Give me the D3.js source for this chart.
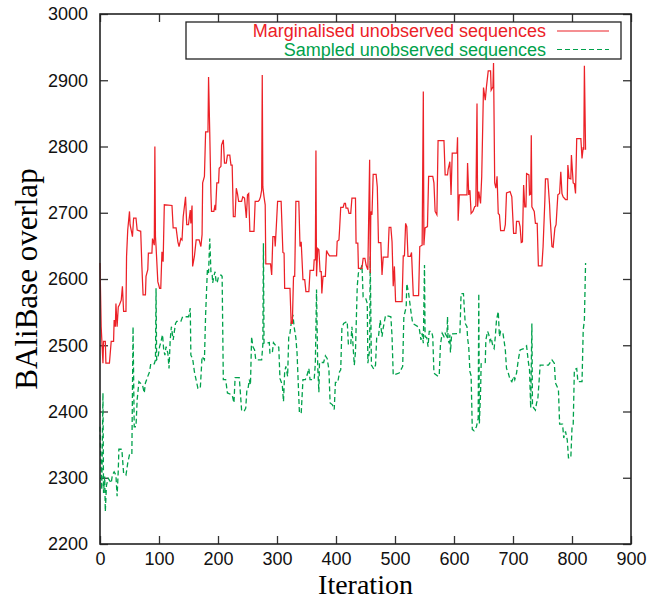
<!DOCTYPE html>
<html>
<head>
<meta charset="utf-8">
<style>
  body { margin: 0; background: #fff; }
  text { font-family: "Liberation Sans", Arial, Helvetica, sans-serif; }
</style>
</head>
<body>
<script src="https://d3js.org/d3.v7.min.js"></script>
<div id="chart"></div>
<script>
// ---- data ----
const xTicks = [0, 100, 200, 300, 400, 500, 600, 700, 800, 900];
const yTicks = [2200, 2300, 2400, 2500, 2600, 2700, 2800, 2900, 3000];
const seriesNames = ["Marginalised unobserved sequences", "Sampled unobserved sequences"];

const margIter = [0,2,5,6,9,10,16,19,23,24,26,27,29,31,33,36,38,40,44,45,47,50,51,54,55,57,61,63,69,71,73,77,78,81,82,88,89,92,93,94,95,98,101,103,105,107,109,122,124,129,132,134,137,139,141,145,147,150,153,154,156,157,160,163,168,171,173,174,177,179,183,184,186,188,189,193,195,196,198,201,202,205,206,209,211,214,216,220,222,224,226,229,231,233,235,240,242,245,248,250,252,254,261,263,268,270,272,274,275,276,278,280,281,289,291,293,296,297,299,301,307,310,312,313,322,324,326,328,330,332,337,339,341,344,347,349,354,356,362,363,365,366,367,369,371,373,375,376,378,382,384,386,389,401,402,405,406,408,412,414,416,417,420,422,425,427,433,434,437,438,444,446,449,451,454,457,458,459,461,463,468,470,472,476,478,480,488,490,493,495,497,499,501,512,514,516,518,520,522,526,528,531,540,542,546,548,549,551,555,557,564,566,568,571,573,583,585,589,590,593,595,597,605,606,607,609,622,623,625,627,629,632,635,637,639,640,642,645,647,650,653,655,658,662,663,666,667,669,671,673,675,677,679,685,687,689,695,698,701,705,706,710,712,714,716,718,720,722,723,727,728,730,731,732,736,738,741,743,749,751,754,755,759,762,763,766,768,771,773,776,779,781,783,785,789,792,793,795,798,799,802,804,806,808,815,817,819,820,821,823];
const margVal = [2624,2528,2473,2506,2506,2473,2473,2506,2506,2538,2528,2563,2528,2558,2561,2568,2589,2551,2551,2634,2674,2702,2682,2669,2664,2692,2692,2674,2672,2619,2576,2576,2604,2614,2639,2639,2661,2651,2800,2664,2649,2596,2586,2586,2641,2626,2712,2711,2677,2677,2656,2649,2661,2659,2694,2724,2682,2682,2704,2684,2711,2619,2634,2659,2659,2649,2667,2745,2755,2822,2822,2905,2822,2729,2702,2702,2712,2704,2745,2745,2767,2770,2802,2810,2775,2775,2787,2787,2772,2772,2694,2694,2737,2729,2717,2717,2724,2722,2692,2727,2729,2672,2672,2717,2717,2719,2724,2734,2908,2739,2724,2712,2623,2623,2606,2664,2664,2649,2682,2717,2717,2640,2639,2586,2586,2533,2533,2604,2604,2717,2717,2649,2656,2599,2599,2581,2581,2613,2613,2629,2629,2794,2604,2646,2644,2611,2611,2578,2604,2604,2643,2639,2635,2635,2657,2659,2674,2708,2708,2714,2714,2707,2707,2699,2699,2722,2722,2654,2654,2616,2616,2631,2631,2621,2614,2780,2609,2702,2697,2758,2758,2739,2655,2655,2606,2633,2633,2678,2678,2656,2589,2619,2566,2566,2635,2635,2684,2679,2634,2634,2640,2575,2575,2649,2651,2883,2651,2677,2679,2755,2755,2745,2702,2697,2809,2809,2757,2757,2765,2777,2727,2790,2790,2814,2688,2727,2727,2775,2727,2734,2699,2702,2709,2710,2865,2709,2732,2714,2755,2889,2870,2890,2914,2914,2885,2890,2926,2745,2737,2755,2699,2697,2673,2673,2682,2730,2732,2724,2669,2669,2687,2687,2679,2655,2656,2742,2709,2709,2759,2757,2727,2728,2817,2709,2702,2684,2684,2620,2620,2649,2719,2751,2751,2712,2692,2649,2648,2677,2682,2727,2729,2762,2729,2724,2720,2720,2772,2752,2751,2787,2745,2744,2729,2812,2812,2782,2799,2795,2922,2795];

const sampIter = [0,2,3,5,6,8,9,11,14,19,21,24,27,29,31,32,37,40,44,47,50,54,56,58,61,63,66,72,75,77,81,84,86,92,94,95,96,98,101,103,106,108,110,112,115,117,119,121,124,128,130,137,140,150,153,154,157,160,164,166,170,173,177,179,182,184,186,188,190,191,193,195,197,199,201,205,207,209,213,216,224,227,229,236,237,240,244,247,249,251,253,255,257,259,262,264,274,276,277,278,287,288,292,294,299,303,305,309,311,313,315,318,320,322,324,327,329,332,334,338,341,344,348,351,354,356,363,365,367,369,371,372,379,382,385,388,390,394,397,399,403,406,408,410,413,419,421,425,427,429,431,433,436,438,442,444,446,450,453,454,457,458,460,464,467,469,472,475,478,480,484,493,495,497,507,513,515,519,520,523,527,530,539,541,544,546,548,550,551,554,556,558,562,564,566,573,575,577,580,583,585,588,589,590,592,593,594,596,610,612,616,619,622,623,625,627,629,631,634,638,641,642,643,645,646,653,654,657,659,661,663,666,668,670,672,675,677,679,683,685,687,689,692,695,698,701,703,706,709,712,718,723,726,728,730,732,733,738,740,742,744,746,760,766,770,772,777,779,784,786,789,792,794,798,800,802,804,808,810,817,819,821,823];
const sampVal = [2377,2312,2282,2428,2277,2302,2249,2289,2299,2292,2304,2309,2304,2272,2312,2343,2343,2307,2304,2322,2335,2335,2528,2377,2377,2418,2445,2440,2428,2443,2453,2460,2472,2472,2478,2586,2478,2480,2498,2504,2516,2493,2485,2498,2488,2465,2508,2528,2508,2533,2536,2536,2543,2543,2556,2485,2480,2460,2443,2435,2435,2483,2478,2546,2614,2609,2661,2611,2609,2594,2604,2611,2594,2596,2604,2606,2604,2448,2448,2428,2425,2413,2451,2451,2440,2402,2400,2405,2433,2435,2448,2440,2513,2498,2493,2478,2478,2501,2654,2503,2504,2488,2488,2504,2498,2497,2450,2440,2415,2460,2468,2453,2516,2518,2533,2546,2528,2511,2488,2398,2397,2448,2448,2455,2465,2448,2448,2473,2584,2468,2429,2474,2474,2484,2480,2463,2413,2410,2403,2444,2444,2460,2463,2526,2533,2536,2501,2501,2528,2498,2470,2490,2589,2609,2615,2621,2573,2572,2563,2473,2493,2634,2470,2464,2470,2512,2513,2538,2513,2526,2545,2543,2513,2455,2458,2468,2543,2558,2593,2579,2551,2533,2528,2526,2508,2518,2503,2621,2513,2511,2498,2521,2521,2513,2458,2453,2455,2501,2518,2513,2518,2513,2543,2508,2503,2516,2489,2517,2518,2578,2578,2533,2528,2511,2497,2460,2454,2373,2371,2377,2390,2578,2382,2428,2472,2474,2508,2521,2516,2506,2511,2498,2495,2513,2538,2551,2513,2521,2518,2506,2493,2465,2458,2448,2445,2453,2448,2458,2478,2493,2495,2499,2475,2463,2405,2533,2408,2402,2413,2418,2443,2470,2470,2478,2473,2443,2433,2381,2381,2360,2370,2357,2330,2330,2375,2378,2463,2465,2445,2445,2523,2538,2624];

// ---- layout ----
const width = 648, height = 601;
const padL = 100, padR = 631, padT = 14, padB = 544;
const red = "#ec2127", green = "#00a14b";

const svg = d3.select("#chart").append("svg")
  .attr("width", width).attr("height", height);

const x = d3.scaleLinear().domain([0, 900]).range([padL, padR]);
const y = d3.scaleLinear().domain([2200, 3000]).range([padB, padT]);

// axes, gnuplot style: ticks pointing inward, mirrored on top/right
const tickLen = 8;
svg.append("g")
  .attr("transform", `translate(0,${padB})`)
  .call(d3.axisBottom(x).tickValues(xTicks).tickFormat(d3.format("d"))
    .tickSizeInner(-tickLen).tickSizeOuter(0).tickPadding(8))
  .call(g => g.select(".domain").remove());
svg.append("g")
  .attr("transform", `translate(0,${padT})`)
  .call(d3.axisTop(x).tickValues(xTicks).tickSizeInner(-tickLen).tickSizeOuter(0).tickFormat(""))
  .call(g => g.select(".domain").remove());
svg.append("g")
  .attr("transform", `translate(${padL},0)`)
  .call(d3.axisLeft(y).tickValues(yTicks).tickFormat(d3.format("d"))
    .tickSizeInner(-tickLen).tickSizeOuter(0).tickPadding(12))
  .call(g => g.select(".domain").remove());
svg.append("g")
  .attr("transform", `translate(${padR},0)`)
  .call(d3.axisRight(y).tickValues(yTicks).tickSizeInner(-tickLen).tickSizeOuter(0).tickFormat(""))
  .call(g => g.select(".domain").remove());

svg.selectAll(".tick line").attr("stroke", "#333").attr("stroke-width", 1.3);
svg.selectAll(".tick text")
  .attr("fill", "#111")
  .style("font-size", "18px")
  .style("font-family", "'Liberation Sans', Arial, sans-serif");

// lines
const lineGen = d3.line().x(d => x(d[0])).y(d => y(d[1]));
const margData = margIter.map((v, i) => [v, margVal[i]]);
const sampData = sampIter.map((v, i) => [v, sampVal[i]]);

svg.append("path")
  .datum(sampData)
  .attr("d", lineGen)
  .attr("fill", "none")
  .attr("stroke", green)
  .attr("stroke-width", 1.3)
  .attr("stroke-dasharray", "5,3");

svg.append("path")
  .datum(margData)
  .attr("d", lineGen)
  .attr("fill", "none")
  .attr("stroke", red)
  .attr("stroke-width", 1.25);

// frame
svg.append("rect")
  .attr("x", padL).attr("y", padT)
  .attr("width", padR - padL).attr("height", padB - padT)
  .attr("fill", "none").attr("stroke", "#222").attr("stroke-width", 1.6);

// legend
const legend = svg.append("g");
legend.append("rect")
  .attr("x", 186).attr("y", 22).attr("width", 435).attr("height", 37)
  .attr("fill", "#fff").attr("stroke", "#222").attr("stroke-width", 1.3);
const legendRows = [
  { name: seriesNames[0], color: red, dash: null, y: 31 },
  { name: seriesNames[1], color: green, dash: "5,3", y: 49.5 }
];
legendRows.forEach(r => {
  legend.append("text")
    .attr("x", 546).attr("y", r.y + 6)
    .attr("text-anchor", "end")
    .attr("fill", r.color)
    .style("font-size", "18px")
    .text(r.name);
  legend.append("line")
    .attr("x1", 557).attr("x2", 609)
    .attr("y1", r.y).attr("y2", r.y)
    .attr("stroke", r.color).attr("stroke-width", 1.2)
    .attr("stroke-dasharray", r.dash);
});

// axis titles
svg.append("text")
  .attr("x", (padL + padR) / 2).attr("y", 594)
  .attr("text-anchor", "middle")
  .style("font-family", "'Liberation Serif', 'Times New Roman', serif")
  .style("font-size", "28px")
  .text("Iteration");
svg.append("text")
  .attr("transform", `translate(37,${(padT + padB) / 2}) rotate(-90)`)
  .attr("text-anchor", "middle")
  .style("font-family", "'Liberation Serif', 'Times New Roman', serif")
  .style("font-size", "31px")
  .text("BAliBase overlap");
</script>
</body>
</html>
